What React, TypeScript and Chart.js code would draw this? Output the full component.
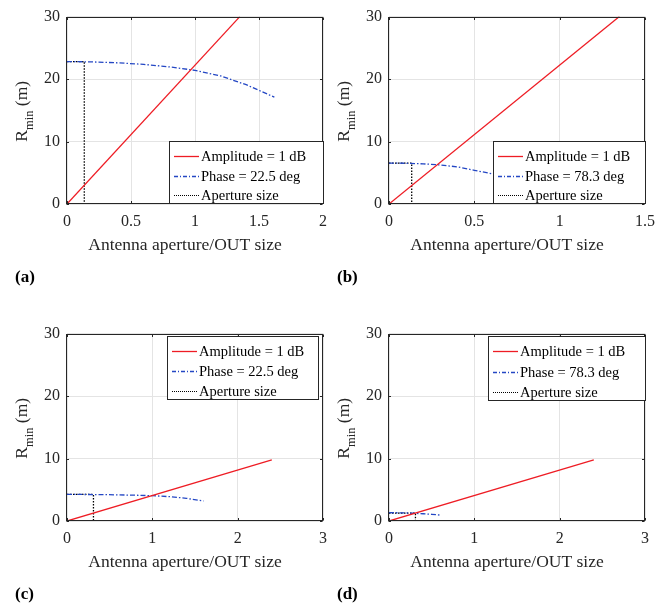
import React, { useEffect, useRef } from 'react';
import { Chart, registerables } from 'chart.js';

Chart.register(...registerables);

const FONT = '"Liberation Serif", "DejaVu Serif", serif';
const TXT = '#262626';
const GRID = '#e4e4e4';
const RED = '#ee1c24';
const BLUE = '#2447c4';

// ---- Panel (a): phase 22.5 deg ----
const ampA_x = [0, 1.35];
const ampA_y = [0, 30];
const phaseA_x = [0, 0.2, 0.4, 0.6, 0.8, 1.0, 1.2, 1.4, 1.62];
const phaseA_y = [22.8, 22.75, 22.6, 22.35, 21.95, 21.4, 20.5, 19.1, 17.1];
const apertureA_x = [0, 0.135, 0.135];
const apertureA_y = [22.8, 22.8, 0];

// ---- Panel (b): phase 78.3 deg ----
const ampB_x = [0, 1.35];
const ampB_y = [0, 30];
const phaseB_x = [0, 0.1, 0.2, 0.3, 0.4, 0.5, 0.6];
const phaseB_y = [6.55, 6.52, 6.43, 6.25, 5.95, 5.4, 4.85];
const apertureB_x = [0, 0.133, 0.133];
const apertureB_y = [6.53, 6.53, 0];

// ---- Panel (c): phase 22.5 deg ----
const ampC_x = [0, 2.4];
const ampC_y = [0, 9.8];
const phaseC_x = [0, 0.4, 0.8, 1.0, 1.2, 1.4, 1.6];
const phaseC_y = [4.26, 4.23, 4.13, 4.05, 3.9, 3.63, 3.2];
const apertureC_x = [0, 0.31, 0.31];
const apertureC_y = [4.25, 4.25, 0];

// ---- Panel (d): phase 78.3 deg ----
const ampD_x = [0, 2.4];
const ampD_y = [0, 9.8];
const phaseD_x = [0, 0.1, 0.2, 0.3, 0.4, 0.5, 0.6];
const phaseD_y = [1.33, 1.32, 1.29, 1.24, 1.16, 1.07, 0.95];
const apertureD_x = [0, 0.31, 0.31];
const apertureD_y = [1.25, 1.25, 0];

// ---- Axis / label texts ----
const Y_MAX = 30;
const Y_STEP = 10;
const X_TITLE = 'Antenna aperture/OUT size';
const AMP_LABEL = 'Amplitude = 1 dB';
const APERTURE_LABEL = 'Aperture size';

type Series = { x: number[]; y: number[] };
type Panel = {
  label: string;
  phaseLabel: string;
  xMax: number;
  xStep: number;
  amp: Series;
  phase: Series;
  aperture: Series;
  left: number;
  top: number;
  width: number;
  height: number;
  legend: { corner: 'br' | 'tr'; rInset: number; vInset: number; w: number; h: number };
};

const PANELS: Panel[] = [
  {
    label: '(a)', phaseLabel: 'Phase = 22.5 deg', xMax: 2, xStep: 0.5,
    amp: { x: ampA_x, y: ampA_y }, phase: { x: phaseA_x, y: phaseA_y }, aperture: { x: apertureA_x, y: apertureA_y },
    left: 0, top: 0, width: 335, height: 300,
    legend: { corner: 'br', rInset: 0, vInset: 1, w: 154, h: 62 },
  },
  {
    label: '(b)', phaseLabel: 'Phase = 78.3 deg', xMax: 1.5, xStep: 0.5,
    amp: { x: ampB_x, y: ampB_y }, phase: { x: phaseB_x, y: phaseB_y }, aperture: { x: apertureB_x, y: apertureB_y },
    left: 322, top: 0, width: 349, height: 300,
    legend: { corner: 'br', rInset: 0, vInset: 1, w: 152, h: 62 },
  },
  {
    label: '(c)', phaseLabel: 'Phase = 22.5 deg', xMax: 3, xStep: 1,
    amp: { x: ampC_x, y: ampC_y }, phase: { x: phaseC_x, y: phaseC_y }, aperture: { x: apertureC_x, y: apertureC_y },
    left: 0, top: 317, width: 335, height: 290,
    legend: { corner: 'tr', rInset: 5, vInset: 1, w: 151, h: 63 },
  },
  {
    label: '(d)', phaseLabel: 'Phase = 78.3 deg', xMax: 3, xStep: 1,
    amp: { x: ampD_x, y: ampD_y }, phase: { x: phaseD_x, y: phaseD_y }, aperture: { x: apertureD_x, y: apertureD_y },
    left: 322, top: 317, width: 349, height: 290,
    legend: { corner: 'tr', rInset: 0, vInset: 1, w: 157, h: 64 },
  },
];

const PLOT_LEFT = 67;
const PLOT_TOP = 14;
const PLOT_W = 256;
const PLOT_BOTTOM = 204;
const X_AXIS_H = 30;

const PHASE_DASH = [5, 2, 1.5, 2];
const DOT_DASH = [1.5, 1.5];

function PanelChart({ p }: { p: Panel }) {
  const ref = useRef<HTMLCanvasElement>(null);

  useEffect(() => {
    const canvas = ref.current!;
    const toPts = (s: Series) => s.x.map((x, i) => ({ x, y: s.y[i] }));

    const deco = {
      id: 'matlabDeco',
      afterDraw(chart: any) {
        const ctx: CanvasRenderingContext2D = chart.ctx;
        const a = chart.chartArea;
        const xs = chart.scales.x;
        const ys = chart.scales.y;
        ctx.save();

        // box
        ctx.strokeStyle = TXT;
        ctx.lineWidth = 1;
        ctx.setLineDash([]);
        const L = Math.round(a.left) - 0.5;
        const R = Math.round(a.right) - 0.5;
        const T = Math.round(a.top) + 0.5;
        const B = Math.round(a.bottom) - 0.5;
        ctx.strokeRect(L, T, R - L, B - T);

        // inward tick marks on all four sides
        const tl = 2.5;
        ctx.beginPath();
        xs.ticks.forEach((t: any) => {
          const px = Math.round(xs.getPixelForValue(t.value)) + 0.5;
          ctx.moveTo(px, B); ctx.lineTo(px, B - tl);
          ctx.moveTo(px, T); ctx.lineTo(px, T + tl);
        });
        ys.ticks.forEach((t: any) => {
          const py = Math.round(ys.getPixelForValue(t.value)) + 0.5;
          ctx.moveTo(L, py); ctx.lineTo(L + tl, py);
          ctx.moveTo(R, py); ctx.lineTo(R - tl, py);
        });
        ctx.stroke();

        // legend
        const lg = p.legend;
        const bx = Math.round(R - lg.rInset - lg.w);
        const by = Math.round(lg.corner === 'br' ? B - lg.vInset - lg.h : T + lg.vInset);
        ctx.fillStyle = '#ffffff';
        ctx.fillRect(bx, by, lg.w, lg.h);
        ctx.strokeStyle = TXT;
        ctx.lineWidth = 1;
        ctx.strokeRect(bx + 0.5, by + 0.5, lg.w, lg.h);
        const items = [
          { text: AMP_LABEL, color: RED, dash: [] as number[], w: 1.3 },
          { text: p.phaseLabel, color: BLUE, dash: [4, 2, 1, 2], w: 1.3 },
          { text: APERTURE_LABEL, color: '#000000', dash: [1, 1], w: 1 },
        ];
        const rowY = [15, 34.5, 54].map((v) => Math.round(v * (lg.h / 62)));
        items.forEach((it, i) => {
          const yy = by + rowY[i] + 0.5;
          ctx.beginPath();
          ctx.strokeStyle = it.color;
          ctx.lineWidth = it.w;
          ctx.setLineDash(it.dash);
          ctx.moveTo(bx + 5, yy);
          ctx.lineTo(bx + 30, yy);
          ctx.stroke();
          ctx.setLineDash([]);
          ctx.fillStyle = '#000000';
          ctx.font = `14.5px ${FONT}`;
          ctx.textBaseline = 'middle';
          ctx.textAlign = 'left';
          ctx.fillText(it.text, bx + 32, yy + 0.5);
        });

        // x axis title
        ctx.fillStyle = TXT;
        ctx.font = `17.5px ${FONT}`;
        ctx.textAlign = 'center';
        ctx.textBaseline = 'middle';
        ctx.fillText(X_TITLE, (a.left + a.right) / 2 - 10, a.bottom + 41);

        // y axis title: R_min (m)
        ctx.save();
        ctx.translate(PLOT_LEFT - 41, (a.top + a.bottom) / 2 + 1);
        ctx.rotate(-Math.PI / 2);
        ctx.textAlign = 'left';
        ctx.textBaseline = 'alphabetic';
        const big = `17.5px ${FONT}`;
        const small = `12.5px ${FONT}`;
        ctx.font = big; const wR = ctx.measureText('R').width;
        ctx.font = small; const wMin = ctx.measureText('min').width;
        ctx.font = big; const wM = ctx.measureText(' (m)').width;
        let x0 = -(wR + wMin + wM) / 2;
        ctx.font = big; ctx.fillText('R', x0, 0.5); x0 += wR;
        ctx.font = small; ctx.fillText('min', x0, 7); x0 += wMin;
        ctx.font = big; ctx.fillText(' (m)', x0, 0.5);
        ctx.restore();

        // panel label
        ctx.fillStyle = '#000000';
        ctx.font = `bold 17px ${FONT}`;
        ctx.textAlign = 'left';
        ctx.textBaseline = 'middle';
        ctx.fillText(p.label, 15, a.bottom + 74);

        ctx.restore();
      },
    };

    const tickFont = { family: FONT, size: 16 };
    const chart = new Chart(canvas, {
      type: 'line',
      data: {
        datasets: [
          { label: AMP_LABEL, data: toPts(p.amp), borderColor: RED, borderWidth: 1.3, pointRadius: 0, tension: 0, fill: false },
          { label: p.phaseLabel, data: toPts(p.phase), borderColor: BLUE, borderWidth: 1.3, borderDash: PHASE_DASH, pointRadius: 0, tension: 0, fill: false },
          { label: APERTURE_LABEL, data: toPts(p.aperture), borderColor: '#000000', borderWidth: 1.3, borderDash: DOT_DASH, pointRadius: 0, tension: 0, fill: false },
        ],
      },
      options: {
        animation: false,
        responsive: false,
        maintainAspectRatio: false,
        devicePixelRatio: 1,
        events: [],
        layout: {
          autoPadding: false,
          padding: {
            left: 0,
            top: PLOT_TOP,
            right: p.width - PLOT_LEFT - PLOT_W,
            bottom: p.height - PLOT_BOTTOM - X_AXIS_H,
          },
        },
        plugins: {
          legend: { display: false },
          tooltip: { enabled: false },
          title: { display: false },
        },
        scales: {
          x: {
            type: 'linear',
            min: 0,
            max: p.xMax,
            ticks: {
              stepSize: p.xStep,
              padding: 8,
              color: TXT,
              font: tickFont,
              maxRotation: 0,
              autoSkip: false,
              callback: (v: any) => String(Math.round(Number(v) * 10) / 10),
            },
            grid: { color: GRID, drawTicks: false, lineWidth: 1 },
            border: { display: false },
            afterFit: (s: any) => { s.height = X_AXIS_H; },
          },
          y: {
            type: 'linear',
            min: 0,
            max: Y_MAX,
            ticks: {
              stepSize: Y_STEP,
              padding: 7,
              color: TXT,
              font: tickFont,
              callback: (v: any) => String(v),
            },
            grid: { color: GRID, drawTicks: false, lineWidth: 1 },
            border: { display: false },
            afterFit: (s: any) => { s.width = PLOT_LEFT; },
          },
        },
      } as any,
      plugins: [deco],
    });
    return () => chart.destroy();
  }, [p]);

  return (
    <canvas
      ref={ref}
      width={p.width}
      height={p.height}
      style={{ position: 'absolute', left: p.left, top: p.top, width: p.width, height: p.height }}
    />
  );
}

export default function App() {
  return (
    <div
      style={{
        position: 'fixed', left: 0, top: 0, width: 671, height: 607,
        background: '#ffffff', overflow: 'hidden',
      }}
    >
      {PANELS.map((p) => (
        <PanelChart key={p.label} p={p} />
      ))}
    </div>
  );
}
